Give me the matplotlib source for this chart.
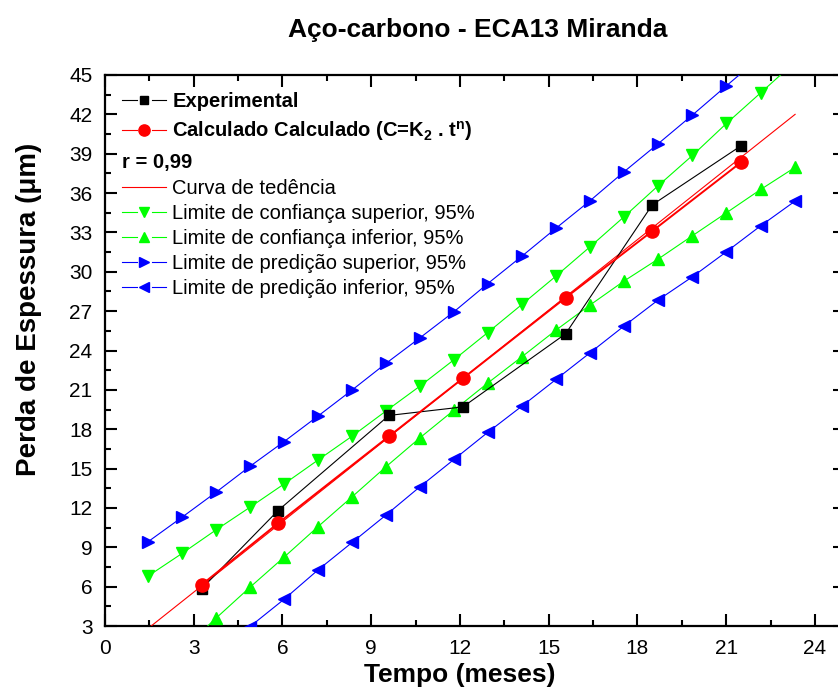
import numpy as np
import matplotlib
matplotlib.use("Agg")
import matplotlib.pyplot as plt
from matplotlib.ticker import MultipleLocator
from matplotlib.legend_handler import HandlerLine2D
from matplotlib.lines import Line2D

plt.rcParams['font.family'] = ['Liberation Sans', 'DejaVu Sans']
plt.rcParams['mathtext.fontset'] = 'custom'
plt.rcParams['mathtext.rm'] = 'Liberation Sans'
plt.rcParams['mathtext.bf'] = 'Liberation Sans:bold'
plt.rcParams['mathtext.default'] = 'regular'

# dados
t_exp = [3.27, 5.85, 9.6, 12.1, 15.57, 18.5, 21.5]
perda_exp = [5.85, 11.8, 19.05, 19.7, 25.27, 35.1, 39.6]
perda_calc = [6.15, 10.83, 17.46, 21.88, 28.02, 33.1, 38.34]

t_tend = [1.46, 23.33]
perda_tend = [2.82, 42.0]

t_lim = [1.46, 2.61, 3.75, 4.9, 6.05, 7.2, 8.36, 9.5, 10.65, 11.8,
         12.94, 14.1, 15.25, 16.4, 17.55, 18.7, 19.86, 21.01, 22.17, 23.33]
conf_sup = [6.81, 8.54, 10.32, 12.05, 13.82, 15.65, 17.48, 19.39, 21.29, 23.30,
            25.37, 27.52, 29.68, 31.91, 34.20, 36.56, 38.87, 41.31, 43.65, 46.0]
conf_inf = [-1.2, 1.2, 3.59, 5.95, 8.24, 10.57, 12.86, 15.14, 17.35, 19.46,
            21.52, 23.53, 25.56, 27.47, 29.30, 30.97, 32.75, 34.50, 36.28, 37.96]
pred_sup = [9.43, 11.30, 13.19, 15.17, 17.05, 19.00, 21.00, 23.02, 24.97, 26.96,
            29.10, 31.20, 33.33, 35.42, 37.63, 39.76, 41.95, 44.18, 46.4, 48.6]
pred_inf = [-3.8, -1.5, 0.7, 2.95, 5.03, 7.27, 9.38, 11.46, 13.62, 15.70,
            17.76, 19.77, 21.80, 23.83, 25.87, 27.85, 29.62, 31.53, 33.51, 35.39]


class LinhaPartida(HandlerLine2D):
    # símbolo da legenda no estilo do Origin: linha interrompida em volta do marcador
    def create_artists(self, legend, orig_handle, xdescent, ydescent, width,
                       height, fontsize, trans):
        arts = super().create_artists(legend, orig_handle, xdescent, ydescent,
                                      width, height, fontsize, trans)
        line = arts[0]
        x = line.get_xdata()
        y = line.get_ydata()
        x0, x1 = x[0], x[-1]
        xm = (x0 + x1) / 2
        g = 0.17 * width
        mark = Line2D([xm], [y[0]], linestyle='none', marker=line.get_marker(),
                      markersize=line.get_markersize(),
                      markerfacecolor=line.get_markerfacecolor(),
                      markeredgecolor=line.get_markeredgecolor())
        mark.set_transform(trans)
        line.set_data([x0, xm - g, np.nan, xm + g, x1], [y[0]] * 5)
        line.set_marker('None')
        line.set_linewidth(0.8)
        return [line, mark]


fig = plt.figure(figsize=(8.38, 6.9), dpi=100)
# o eixo direito fica um pouco fora da figura, como no original
ax = fig.add_axes([105 / 838, 64 / 690, 739.5 / 838, 551 / 690])

verde = '#00ff00'
azul = '#0000ff'
vermelho = '#ff0000'

l_exp, = ax.plot(t_exp, perda_exp, color='black', lw=0.8, marker='s', ms=7.5,
                 label='Experimental', zorder=5)
l_calc, = ax.plot(t_exp, perda_calc, color=vermelho, lw=1.4, marker='o', ms=9.5,
                  label=r'Calculado Calculado (C=K$_2$ . t$^n$)', zorder=6)
l_tend, = ax.plot(t_tend, perda_tend, color=vermelho, lw=0.8,
                  label='Curva de tedência', zorder=4)
l_cs, = ax.plot(t_lim, conf_sup, color=verde, lw=0.8, marker='v', ms=9,
                label='Limite de confiança superior, 95%', zorder=3)
l_ci, = ax.plot(t_lim, conf_inf, color=verde, lw=0.8, marker='^', ms=9,
                label='Limite de confiança inferior, 95%', zorder=3)
l_ps, = ax.plot(t_lim, pred_sup, color=azul, lw=0.8, marker='>', ms=9,
                label='Limite de predição superior, 95%', zorder=3)
l_pi, = ax.plot(t_lim, pred_inf, color=azul, lw=0.8, marker='<', ms=9,
                label='Limite de predição inferior, 95%', zorder=3)

ax.set_xlim(0, 25)
ax.set_ylim(3, 45)
ax.xaxis.set_major_locator(MultipleLocator(3))
ax.xaxis.set_minor_locator(MultipleLocator(1.5))
ax.yaxis.set_major_locator(MultipleLocator(3))
ax.yaxis.set_minor_locator(MultipleLocator(1.5))
ax.set_xticks([0, 3, 6, 9, 12, 15, 18, 21, 24])
ax.tick_params(which='both', direction='in', top=True, right=True, width=1.5,
               labelsize=15, pad=9)
ax.tick_params(which='major', length=8.5)
ax.tick_params(which='minor', length=4.3)
for s in ax.spines.values():
    s.set_linewidth(1.6)

ax.set_xlabel('Tempo (meses)', fontsize=19, fontweight='bold')
ax.set_ylabel('Perda de Espessura (μm)', fontsize=20, fontweight='bold')
ax.xaxis.set_label_coords(0.48, -0.067)
ax.yaxis.set_label_coords(-0.103, 0.575)
ax.yaxis.label.set_va('center')

fig.text(478 / 838, 1 - 30 / 690, 'Aço-carbono - ECA13 Miranda', fontsize=19,
         fontweight='bold', ha='center', va='center')

# legenda em dois blocos (as duas primeiras linhas têm espaçamento maior)
fs = 14.5
opts = dict(loc='upper left', frameon=False, fontsize=fs, handlelength=2.2,
            handletextpad=0.3, borderpad=0, borderaxespad=0, markerscale=0.85)
hmap = {h: LinhaPartida() for h in (l_exp, l_calc, l_cs, l_ci, l_ps, l_pi)}

leg1 = ax.legend(handles=[l_exp, l_calc], bbox_to_anchor=(0.023, 0.9688),
                 labelspacing=0.39, handler_map=hmap, **opts)
for t in leg1.get_texts():
    t.set_fontweight('bold')
ax.add_artist(leg1)

ax.legend(handles=[l_tend, l_cs, l_ci, l_ps, l_pi], bbox_to_anchor=(0.023, 0.8116),
          labelspacing=0.3, handler_map=hmap, **opts)

fig.text(122 / 838, 1 - 162.7 / 690, 'r = 0,99', fontsize=fs, fontweight='bold',
         ha='left', va='center')

fig.savefig('out.png', dpi=100)
